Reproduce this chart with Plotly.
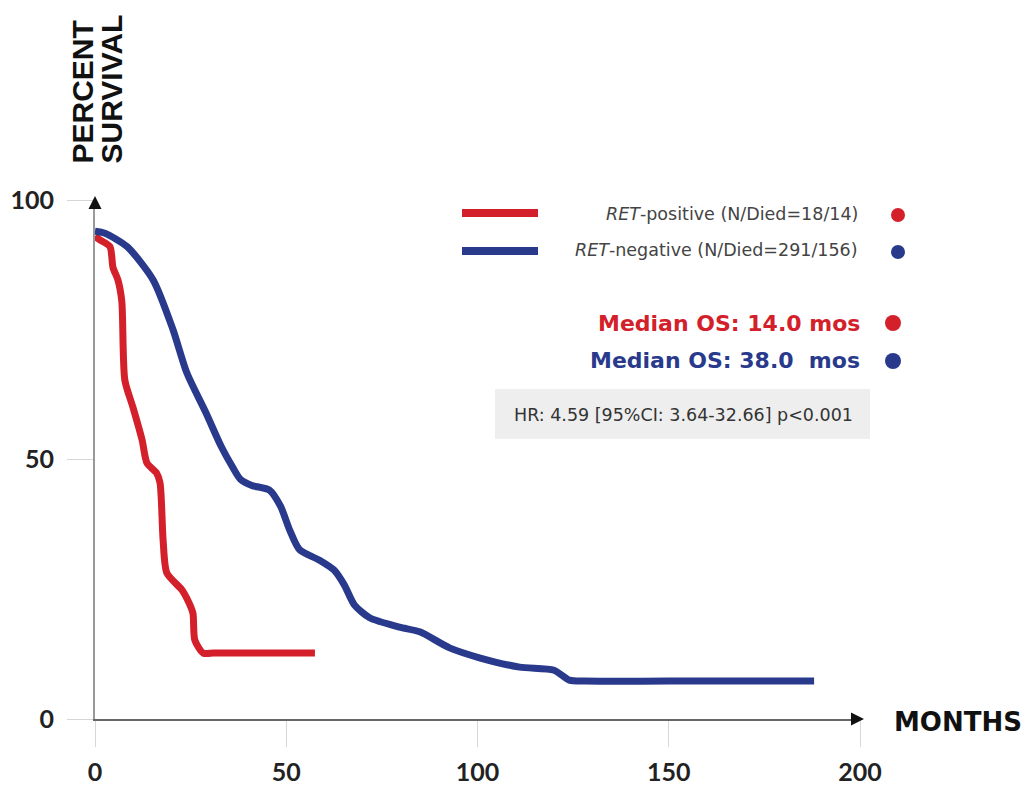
import plotly.graph_objects as go

# Data (months, percent survival)
months_pos = [0, 1.3, 3.9, 4.7, 6.0, 7.0, 7.8, 9.9, 12.3, 13.6, 16.1, 17.0, 17.8, 18.8, 22.7, 24.5, 25.6, 26.1, 28.3,
              31, 40, 57.5]
surv_pos = [93, 92.3, 91, 87, 84.6, 80.5, 65.3, 60.1, 53.8, 49.3, 47.4, 45.5, 34.5, 28.1, 24.9, 22.5, 20.4, 15.2, 12.7,
            12.7, 12.7, 12.7]

months_neg = [0, 2.6, 8.4, 15.2, 20.4, 24, 29, 33, 36, 38, 41, 45.6, 48.5, 50.9, 53.5, 58.7, 62.5, 65.2, 67.8, 71.8,
              79.6, 84.9, 92.7, 100.5, 111, 120, 124, 128, 150, 188]
surv_neg = [94, 93.6, 91, 84.6, 75, 66.7, 59, 52.5, 48.5, 46.2, 45, 44.1, 41, 36.4, 32.6, 30.6, 28.7, 25.8, 22, 19.5,
            17.7, 16.8, 13.7, 11.8, 10, 9.4, 7.5, 7.3, 7.3, 7.3]

series_names = ["RET-positive", "RET-negative"]
legend_texts = ["<i>RET</i>-positive (N/Died=18/14)", "<i>RET</i>-negative (N/Died=291/156)"]
median_texts = ["Median OS: 14.0 mos", "Median OS: 38.0  mos"]
hr_text = "HR: 4.59 [95%CI: 3.64-32.66] p<0.001"
x_ticks = [0, 50, 100, 150, 200]
y_ticks = [0, 50, 100]

RED = "#d3202a"
BLUE = "#293a8c"
FONT = "Lato"
WIDE = "DejaVu Sans"

fig = go.Figure()
fig.add_trace(go.Scatter(x=months_pos, y=surv_pos, mode="lines", name=series_names[0],
                         line=dict(color=RED, width=7, shape="spline", smoothing=0.7)))
fig.add_trace(go.Scatter(x=months_neg, y=surv_neg, mode="lines", name=series_names[1],
                         line=dict(color=BLUE, width=7, shape="spline", smoothing=0.7)))

L, R, T, B = 95, 860, 200, 719


def px(xp):
    return (xp - L) / (R - L)


def py(yp):
    return (B - yp) / (B - T)


shapes = []
annotations = []
# legend lines
for yp, col in [(213, RED), (251, BLUE)]:
    shapes.append(dict(type="line", xref="paper", yref="paper", x0=px(462), x1=px(538), y0=py(yp), y1=py(yp),
                       line=dict(color=col, width=8)))
# legend texts
for yp, txt in [(214, legend_texts[0]), (250, legend_texts[1])]:
    annotations.append(dict(xref="paper", yref="paper", x=px(860), y=py(yp), text=txt, showarrow=False,
                            xanchor="right", yanchor="middle", font=dict(family=WIDE, size=17.5, color="#444")))
# dots
for xp, yp, col, r in [(898, 215, RED, 7), (898, 252, BLUE, 7), (893, 323, RED, 8), (893, 361, BLUE, 8)]:
    shapes.append(dict(type="circle", xref="paper", yref="paper", x0=px(xp - r), x1=px(xp + r),
                       y0=py(yp + r), y1=py(yp - r), fillcolor=col, line=dict(width=0)))
# median texts
for yp, txt, col in [(323, median_texts[0], RED), (360, median_texts[1], BLUE)]:
    annotations.append(dict(xref="paper", yref="paper", x=px(862), y=py(yp), text="<b>" + txt + "</b>",
                            showarrow=False, xanchor="right", yanchor="middle",
                            font=dict(family=WIDE, size=22, color=col)))
# HR box
shapes.append(dict(type="rect", xref="paper", yref="paper", x0=px(495), x1=px(870), y0=py(439), y1=py(389),
                   fillcolor="#eeeeee", line=dict(width=0), layer="below"))
annotations.append(dict(xref="paper", yref="paper", x=px(512), y=py(415), text=hr_text, showarrow=False,
                        xanchor="left", yanchor="middle", font=dict(family=WIDE, size=17.5, color="#333")))
# axis titles
for xc, txt in [(82, "PERCENT"), (111, "SURVIVAL")]:
    annotations.append(dict(xref="paper", yref="paper", x=px(xc), y=py(166), text="<b>" + txt + "</b>",
                            textangle=-90, showarrow=False, xanchor="center", yanchor="bottom",
                            font=dict(family="Liberation Sans", size=30, color="#111")))
annotations.append(dict(xref="paper", yref="paper", x=px(892), y=py(722), text="<b>MONTHS</b>", showarrow=False,
                        xanchor="left", yanchor="middle", font=dict(family=WIDE, size=26, color="#111")))
# axis arrows
annotations.append(dict(xref="paper", yref="paper", x=0, y=py(196), ax=0, ay=12, text="", showarrow=True,
                        arrowhead=2, arrowsize=1.3, arrowwidth=2, arrowcolor="#111", axref="pixel", ayref="pixel"))
annotations.append(dict(xref="paper", yref="paper", x=px(864), y=0, ax=-12, ay=0, text="", showarrow=True,
                        arrowhead=2, arrowsize=1.3, arrowwidth=2, arrowcolor="#111", axref="pixel", ayref="pixel"))

tickfont = dict(family=FONT, size=25, color="#222", weight="bold")
fig.update_layout(
    width=1026, height=791,
    margin=dict(l=L, r=1026 - R, t=T, b=791 - B),
    paper_bgcolor="white", plot_bgcolor="white",
    showlegend=False,
    shapes=shapes, annotations=annotations,
    font=dict(family=FONT, color="#222"),
    xaxis=dict(range=[0, 200], tickvals=x_ticks, showgrid=False, zeroline=False, showline=True,
               linecolor="#666", linewidth=2, ticks="outside", ticklen=26, tickcolor="#d6d6d6", tickwidth=1,
               tickfont=tickfont, ticklabelstandoff=4, automargin=False),
    yaxis=dict(range=[0, 100], tickvals=y_ticks, showgrid=False, zeroline=False, showline=True,
               linecolor="#999", linewidth=2, ticks="outside", ticklen=26, tickcolor="#d6d6d6", tickwidth=1,
               tickfont=tickfont, ticklabelstandoff=8, automargin=False),
)

fig.write_html("out.html")
